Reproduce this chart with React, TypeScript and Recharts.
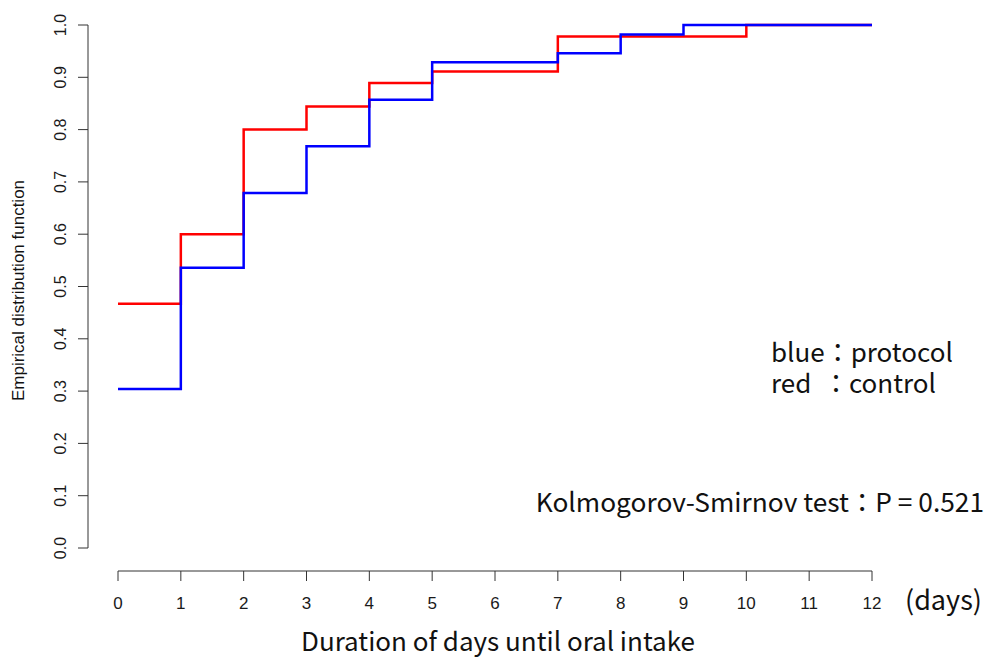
import React from 'react'
import { Line, LineChart, XAxis, YAxis } from 'recharts'

const days = [0, 1, 2, 3, 4, 5, 6, 7, 8, 9, 10, 11, 12]
// red: control group ECDF
const controlEcdf = [0.467, 0.6, 0.8, 0.844, 0.889, 0.911, 0.911, 0.978, 0.978, 0.978, 1.0, 1.0, 1.0]
// blue: protocol group ECDF
const protocolEcdf = [0.304, 0.536, 0.679, 0.768, 0.857, 0.929, 0.929, 0.946, 0.982, 1.0, 1.0, 1.0, 1.0]
const yTicks = [0, 0.1, 0.2, 0.3, 0.4, 0.5, 0.6, 0.7, 0.8, 0.9, 1.0]

const data = days.map((day, i) => ({ day, control: controlEcdf[i], protocol: protocolEcdf[i] }))

const JP = '"Noto Sans CJK JP", "Noto Sans", sans-serif'
const ARIAL = '"Liberation Sans", Arial, sans-serif'
const AXIS = '#333'

const YTick = ({ x, y, payload }: any) => (
  <text
    x={x}
    y={y}
    transform={`rotate(-90, ${x}, ${y})`}
    textAnchor="middle"
    fontSize={16}
    fontFamily={ARIAL}
    fill="#1a1a1a"
  >
    {payload.value.toFixed(1)}
  </text>
)

const YLabel = ({ viewBox }: any) => {
  const x = viewBox.x + 24
  const y = viewBox.y + viewBox.height / 2 + 4
  return (
    <text x={x} y={y} transform={`rotate(-90, ${x}, ${y})`} textAnchor="middle" fontSize={17} fontFamily={ARIAL} fill="#111">
      Empirical distribution function
    </text>
  )
}

const XLabel = ({ viewBox }: any) => (
  <text x={viewBox.x + viewBox.width / 2 + 3} y={651} textAnchor="middle" fontSize={26} fontFamily={JP} fill="#111">
    Duration of days until oral intake
  </text>
)

const note: React.CSSProperties = {
  position: 'absolute',
  fontFamily: JP,
  fontSize: 26,
  lineHeight: 1,
  color: '#111',
  whiteSpace: 'pre',
}

export default function App() {
  return (
    <div style={{ position: 'absolute', left: 0, top: 0, width: 989, height: 657, background: '#fff' }}>
      <LineChart width={989} height={657} data={data} margin={{ top: 25, right: 117, bottom: 0, left: 0 }}>
        {/* spacer axes keep the R-style gap between the axes and the data */}
        <XAxis xAxisId="gap" height={23} tick={false} axisLine={false} tickLine={false} />
        <YAxis yAxisId="gap" width={30} tick={false} axisLine={false} tickLine={false} />
        <XAxis
          xAxisId="main"
          dataKey="day"
          type="number"
          domain={[0, 12]}
          ticks={days}
          interval={0}
          height={86}
          tickSize={10}
          tickMargin={16}
          stroke={AXIS}
          tick={{ fontSize: 17, fill: '#1a1a1a', fontFamily: ARIAL }}
          label={{ content: XLabel }}
        />
        <YAxis
          yAxisId="main"
          type="number"
          domain={[0, 1]}
          ticks={yTicks}
          interval={0}
          width={88}
          tickSize={10}
          tickMargin={12}
          stroke={AXIS}
          tick={<YTick />}
          label={{ content: YLabel }}
        />
        <Line
          xAxisId="main"
          yAxisId="main"
          dataKey="control"
          type="stepAfter"
          stroke="#ff0000"
          strokeWidth={2.5}
          dot={false}
          isAnimationActive={false}
        />
        <Line
          xAxisId="main"
          yAxisId="main"
          dataKey="protocol"
          type="stepAfter"
          stroke="#0000ff"
          strokeWidth={2.5}
          dot={false}
          isAnimationActive={false}
        />
      </LineChart>
      <div style={{ ...note, left: 771, top: 338 }}>blue：protocol</div>
      <div style={{ ...note, left: 771, top: 369 }}>{'red  ：control'}</div>
      <div style={{ ...note, right: 5, top: 488, fontSize: 26.3 }}>Kolmogorov-Smirnov test：P = 0.521</div>
      <div style={{ ...note, left: 905, top: 585, fontSize: 27 }}>(days)</div>
    </div>
  )
}
